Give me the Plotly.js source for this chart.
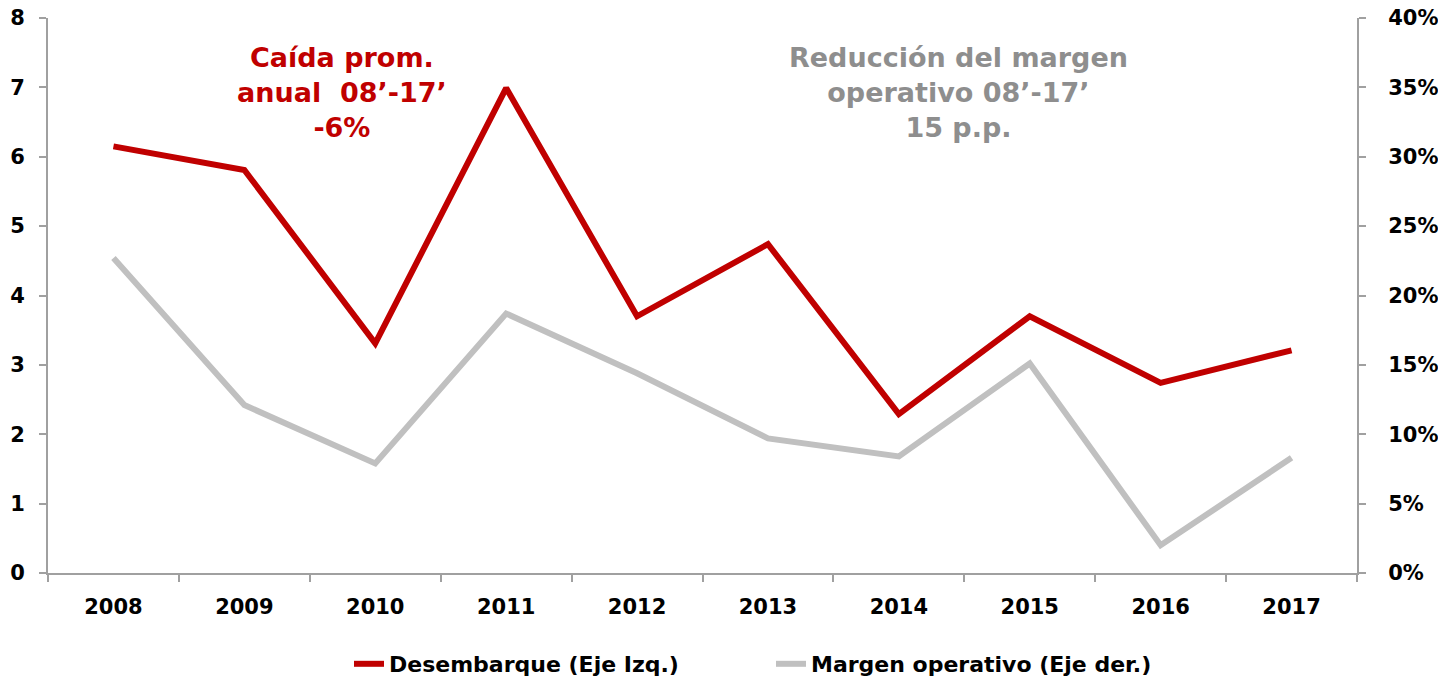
<!DOCTYPE html>
<html>
<head>
<meta charset="utf-8">
<script src="https://cdn.plot.ly/plotly-3.0.1.min.js"></script>
<style>html,body{margin:0;padding:0;background:#fff;}#chart{width:1438px;height:678px;}</style>
</head>
<body>
<div id="chart"></div>
<script>
const years = ["2008","2009","2010","2011","2012","2013","2014","2015","2016","2017"];
const desembarque = [6.15, 5.81, 3.31, 6.99, 3.70, 4.74, 2.29, 3.70, 2.74, 3.21];
const margenOperativo = [0.227, 0.121, 0.079, 0.187, 0.144, 0.097, 0.084, 0.151, 0.020, 0.083];
const leftTicks = [0,1,2,3,4,5,6,7,8];
const rightTicks = [0,0.05,0.10,0.15,0.20,0.25,0.30,0.35,0.40];
const rightTickLabels = ["0%","5%","10%","15%","20%","25%","30%","35%","40%"];

const FONT = "DejaVu Sans, Liberation Sans, Arial, sans-serif";
const AXC = "#A0A0A0";

const traces = [
  {x: years, y: desembarque, type: "scatter", mode: "lines", name: "Desembarque (Eje Izq.)",
   line: {color: "#C00000", width: 6}, yaxis: "y"},
  {x: years, y: margenOperativo, type: "scatter", mode: "lines", name: "Margen operativo (Eje der.)",
   line: {color: "#C0C0C0", width: 6}, yaxis: "y2"}
];

const layout = {
  width: 1438, height: 678,
  margin: {l: 48, r: 81, t: 18, b: 105},
  paper_bgcolor: "#fff", plot_bgcolor: "#fff",
  font: {family: FONT, color: "#000"},
  showlegend: true,
  legend: {orientation: "h", xref: "container", yref: "container",
           x: 349/1438, xanchor: "left", y: 14/678, yanchor: "middle",
           entrywidth: 377, entrywidthmode: "pixels",
           font: {family: FONT, size: 22, color: "#000", weight: "bold"}, traceorder: "normal"},
  xaxis: {type: "category", range: [-0.5, 9.5], showgrid: false, zeroline: false,
          showline: true, linecolor: AXC, linewidth: 2,
          ticks: "outside", tickson: "boundaries", ticklen: 7, tickcolor: AXC, tickwidth: 2,
          ticklabelstandoff: 14,
          tickfont: {family: FONT, size: 21, color: "#000", weight: "bold"}, fixedrange: true},
  yaxis: {range: [0, 8], tickvals: leftTicks, showgrid: false, zeroline: false,
          showline: true, linecolor: AXC, linewidth: 2,
          ticks: "outside", ticklen: 7, tickcolor: AXC, tickwidth: 2,
          ticklabelstandoff: 10,
          tickfont: {family: FONT, size: 21, color: "#000", weight: "bold"}},
  yaxis2: {range: [0, 0.4], overlaying: "y", side: "right", tickvals: rightTicks, ticktext: rightTickLabels,
           showgrid: false, zeroline: false, showline: true, linecolor: AXC, linewidth: 2,
           ticks: "outside", ticklen: 7, tickcolor: AXC, tickwidth: 2,
           ticklabelstandoff: 18,
           tickfont: {family: FONT, size: 21, color: "#000", weight: "bold"}},
  annotations: [
    {xref: "paper", yref: "paper", x: (342-48)/1309, y: (573-93)/555, xanchor: "center", yanchor: "middle",
     text: "Caída prom.<br>anual  08’-17’<br>-6%", showarrow: false, align: "center",
     font: {family: FONT, size: 27, color: "#C00000", weight: "bold"}},
    {xref: "paper", yref: "paper", x: (958-48)/1309, y: (573-93)/555, xanchor: "center", yanchor: "middle",
     text: "Reducción del margen<br>operativo 08’-17’<br>15 p.p.", showarrow: false, align: "center",
     font: {family: FONT, size: 27, color: "#8E8E8E", weight: "bold"}}
  ]
};

Plotly.newPlot("chart", traces, layout, {displayModeBar: false, staticPlot: true});
</script>
</body>
</html>
